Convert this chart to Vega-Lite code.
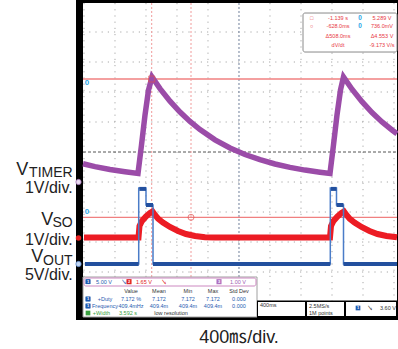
{
  "$schema": "https://vega.github.io/schema/vega-lite/v6.json",
  "width": 322,
  "height": 320,
  "autosize": {"type": "none"},
  "padding": {"left": 76, "top": 0, "right": 0, "bottom": 29},
  "background": "white",
  "config": {"view": {"fill": "black", "stroke": null}, "text": {"font": "Liberation Sans, Noto Sans CJK JP"}},
  "datasets": {
    "screen": [{"t": -5.032, "t2": 5.097, "v": 4.967, "v2": -5.5}],
    "gridX": [{"t": -5}, {"t": -4}, {"t": -3}, {"t": -2}, {"t": -1}, {"t": 1}, {"t": 2}, {"t": 3}, {"t": 4}, {"t": 5}],
    "gridY": [{"v": -5}, {"v": -4}, {"v": -3}, {"v": -2}, {"v": -1}, {"v": 1}, {"v": 2}, {"v": 3}, {"v": 4}],
    "centerT": [{"t": 0}],
    "centerV": [{"v": 0}],
    "cursorH": [{"v": 2.433}, {"v": -2.177}],
    "cursorV": [{"t": -2.816}, {"t": -1.548}],
    "purple": [
      {"t": -5.032, "v": -0.393}, {"t": -4.645, "v": -0.487}, {"t": -4.161, "v": -0.583}, {"t": -3.677, "v": -0.657},
      {"t": -3.258, "v": -0.713}, {"t": -3.145, "v": 0.233}, {"t": -3.032, "v": 1.233}, {"t": -2.919, "v": 2.067},
      {"t": -2.806, "v": 2.5}, {"t": -2.548, "v": 2.113}, {"t": -2.226, "v": 1.693}, {"t": -1.903, "v": 1.33},
      {"t": -1.581, "v": 1.017}, {"t": -1.258, "v": 0.747}, {"t": -0.774, "v": 0.407}, {"t": -0.29, "v": 0.133},
      {"t": 0.194, "v": -0.083}, {"t": 0.677, "v": -0.257}, {"t": 1.161, "v": -0.4}, {"t": 1.645, "v": -0.513},
      {"t": 2.129, "v": -0.603}, {"t": 2.613, "v": -0.673}, {"t": 2.935, "v": -0.713}, {"t": 3.048, "v": 0.233},
      {"t": 3.161, "v": 1.233}, {"t": 3.274, "v": 2.067}, {"t": 3.371, "v": 2.5}, {"t": 3.645, "v": 2.093},
      {"t": 3.968, "v": 1.677}, {"t": 4.29, "v": 1.313}, {"t": 4.613, "v": 1.0}, {"t": 4.935, "v": 0.733},
      {"t": 5.097, "v": 0.61}
    ],
    "red": [
      {"t": -5.0, "v": -2.85}, {"t": -3.242, "v": -2.85}, {"t": -3.21, "v": -2.467}, {"t": -3.129, "v": -2.3},
      {"t": -3.0, "v": -2.15}, {"t": -2.871, "v": -2.033}, {"t": -2.79, "v": -1.983}, {"t": -2.71, "v": -2.1},
      {"t": -2.613, "v": -2.217}, {"t": -2.452, "v": -2.35}, {"t": -2.226, "v": -2.5}, {"t": -1.968, "v": -2.633},
      {"t": -1.71, "v": -2.733}, {"t": -1.419, "v": -2.8}, {"t": -1.097, "v": -2.843}, {"t": -0.774, "v": -2.85},
      {"t": 2.935, "v": -2.85}, {"t": 2.968, "v": -2.467}, {"t": 3.048, "v": -2.3}, {"t": 3.177, "v": -2.15},
      {"t": 3.306, "v": -2.033}, {"t": 3.387, "v": -1.983}, {"t": 3.468, "v": -2.1}, {"t": 3.565, "v": -2.217},
      {"t": 3.726, "v": -2.35}, {"t": 3.952, "v": -2.5}, {"t": 4.21, "v": -2.633}, {"t": 4.468, "v": -2.733},
      {"t": 4.758, "v": -2.8}, {"t": 5.097, "v": -2.843}
    ],
    "blue": [
      {"i": 1, "t": -4.97, "v": -3.733}, {"i": 2, "t": -3.235, "v": -3.733}, {"i": 3, "t": -3.235, "v": -1.2},
      {"i": 4, "t": -3.0, "v": -1.2}, {"i": 5, "t": -3.0, "v": -1.767}, {"i": 6, "t": -2.774, "v": -1.767},
      {"i": 7, "t": -2.774, "v": -3.733}, {"i": 8, "t": 2.945, "v": -3.733}, {"i": 9, "t": 2.945, "v": -1.2},
      {"i": 10, "t": 3.145, "v": -1.2}, {"i": 11, "t": 3.145, "v": -1.767}, {"i": 12, "t": 3.371, "v": -1.767},
      {"i": 13, "t": 3.371, "v": -3.733}, {"i": 14, "t": 5.097, "v": -3.733}
    ],
    "blueSeg": [
      {"t": -4.97, "t2": -3.235, "v": -3.733}, {"t": -2.774, "t2": 2.945, "v": -3.733}, {"t": 3.371, "t2": 5.097, "v": -3.733},
      {"t": -3.215, "t2": -3.0, "v": -1.23}, {"t": -3.0, "t2": -2.774, "v": -1.767},
      {"t": 2.965, "t2": 3.145, "v": -1.23}, {"t": 3.145, "t2": 3.371, "v": -1.767}
    ],
    "measBox": [{"t": 2.065, "t2": 5.097, "v": 4.633, "v2": 3.333}],
    "measText": [
      {"t": 2.345, "v": 4.467, "label": "□"}, {"t": 3.194, "v": 4.467, "label": "-1.139 s"}, {"t": 4.613, "v": 4.467, "label": "5.289 V"},
      {"t": 2.345, "v": 4.19, "label": "○"}, {"t": 3.194, "v": 4.19, "label": "-628.0ms"}, {"t": 4.613, "v": 4.19, "label": "736.0mV"},
      {"t": 3.194, "v": 3.867, "label": "Δ508.0ms"}, {"t": 4.613, "v": 3.867, "label": "Δ4.553 V"},
      {"t": 3.194, "v": 3.577, "label": "dV/dt"}, {"t": 4.613, "v": 3.577, "label": "-9.173 V/s"}
    ],
    "measZero": [{"t": 3.903, "v": 4.467, "label": "0"}, {"t": 3.903, "v": 4.19, "label": "0"}],
    "edgeZero": [{"t": -4.903, "v": 2.31, "label": "0"}, {"t": -4.903, "v": -2.0, "label": "0"}],
    "panel": [{"t": -5.032, "t2": 0.581, "v": -4.167, "v2": -5.5}],
    "strip": [{"t": -5.0, "t2": 0.548, "v": -4.2, "v2": -4.467}],
    "badgeBlue": [{"t": -4.871, "v": -4.323}, {"t": -4.871, "v": -4.9}, {"t": -4.871, "v": -5.133}, {"t": 3.839, "v": -5.2}],
    "badgeRed": [{"t": -3.548, "v": -4.323}],
    "badgePurple": [{"t": -0.645, "v": -4.323}],
    "badgeGreen": [{"t": -4.871, "v": -5.367}],
    "badgeDigit": [
      {"t": -4.871, "v": -4.323, "label": "1"}, {"t": -4.871, "v": -4.9, "label": "1"}, {"t": -4.871, "v": -5.133, "label": "1"},
      {"t": 3.839, "v": -5.2, "label": "1"}, {"t": -3.548, "v": -4.323, "label": "2"}, {"t": -0.645, "v": -4.323, "label": "3"}
    ],
    "blueText": [
      {"t": -4.355, "v": -4.323, "label": "5.00 V"}, {"t": -3.71, "v": -4.323, "label": "↘"},
      {"t": -4.323, "v": -4.9, "label": "+Duty"}, {"t": -3.484, "v": -4.9, "label": "7.172 %"},
      {"t": -2.581, "v": -4.9, "label": "7.172"}, {"t": -1.645, "v": -4.9, "label": "7.172"},
      {"t": -0.839, "v": -4.9, "label": "7.172"}, {"t": 0, "v": -4.9, "label": "0.000"},
      {"t": -4.323, "v": -5.133, "label": "Frequency"}, {"t": -3.484, "v": -5.133, "label": "409.4mHz"},
      {"t": -2.581, "v": -5.133, "label": "409.4m"}, {"t": -1.645, "v": -5.133, "label": "409.4m"},
      {"t": -0.839, "v": -5.133, "label": "409.4m"}, {"t": 0, "v": -5.133, "label": "0.000"}
    ],
    "redText": [{"t": -3.065, "v": -4.323, "label": "1.65 V"}, {"t": -2.419, "v": -4.323, "label": "↘"}],
    "purpleText": [{"t": -0.032, "v": -4.323, "label": "1.00 V"}],
    "greenText": [{"t": -4.435, "v": -5.367, "label": "+Width"}, {"t": -3.58, "v": -5.367, "label": "3.592 s"}],
    "darkText": [
      {"t": -3.484, "v": -4.623, "label": "Value"}, {"t": -2.581, "v": -4.623, "label": "Mean"},
      {"t": -1.645, "v": -4.623, "label": "Min"}, {"t": -0.839, "v": -4.623, "label": "Max"},
      {"t": 0, "v": -4.623, "label": "Std Dev"}, {"t": -2.19, "v": -5.367, "label": "low resolution"},
      {"t": 4.226, "v": -5.2, "label": "↘"}, {"t": 4.806, "v": -5.2, "label": "3.60 V"}
    ],
    "boxBack": [{"t": 0.581, "t2": 5.097, "v": -4.95, "v2": -5.5}],
    "boxes": [
      {"t": 0.613, "t2": 2.129, "v": -5.0, "v2": -5.47},
      {"t": 2.194, "t2": 3.387, "v": -5.0, "v2": -5.47},
      {"t": 3.452, "t2": 5.065, "v": -5.0, "v2": -5.47}
    ],
    "boxText": [
      {"t": 0.677, "v": -5.1, "label": "400ms"}, {"t": 2.258, "v": -5.12, "label": "2.5MS/s"},
      {"t": 2.258, "v": -5.35, "label": "1M points"}
    ],
    "chMarkLav": [{"t": -5.177, "v": -1.0}],
    "chMarkRed": [{"t": -5.177, "v": -2.867}],
    "chMarkBlue": [{"t": -5.177, "v": -3.733}],
    "cursorSq": [{"t": -2.816, "v": 2.433}],
    "cursorCi": [{"t": -1.548, "v": -2.177}],
    "bigV": [{"t": -6.797, "v": -0.767, "label": "V"}, {"t": -5.99, "v": -2.42, "label": "V"}, {"t": -6.313, "v": -3.65, "label": "V"}],
    "subs": [{"t": -5.365, "v": -0.817, "label": "TIMER"}, {"t": -5.365, "v": -2.5, "label": "SO"}, {"t": -5.365, "v": -3.76, "label": "OUT"}],
    "perDiv": [{"t": -5.365, "v": -1.377, "label": "1V/div."}, {"t": -5.365, "v": -3.1, "label": "1V/div."}, {"t": -5.365, "v": -4.27, "label": "5V/div."}],
    "title": [{"t": 0, "v": -6.377, "label": "400㎳/div."}]
  },
  "layer": [
    {"data": {"name": "screen"}, "mark": {"type": "rect", "fill": "white"},
     "encoding": {"x": {"field": "t", "type": "quantitative", "scale": {"domain": [-5.258, 5.129], "nice": false, "zero": false}, "axis": null},
                  "y": {"field": "v", "type": "quantitative", "scale": {"domain": [-5.6, 5.067], "nice": false, "zero": false}, "axis": null},
                  "x2": {"field": "t2"}, "y2": {"field": "v2"}}},
    {"data": {"name": "gridX"}, "mark": {"type": "rule", "stroke": "#a8a8a8", "strokeWidth": 1, "strokeDash": [1.2, 5]},
     "encoding": {"x": {"field": "t", "type": "quantitative", "axis": null}, "y": {"datum": 4.967, "type": "quantitative", "axis": null}, "y2": {"datum": -5.5}}},
    {"data": {"name": "gridY"}, "mark": {"type": "rule", "stroke": "#a8a8a8", "strokeWidth": 1, "strokeDash": [1.2, 5]},
     "encoding": {"y": {"field": "v", "type": "quantitative", "axis": null}, "x": {"datum": -5.032, "type": "quantitative", "axis": null}, "x2": {"datum": 5.097}}},
    {"data": {"name": "centerV"}, "mark": {"type": "rule", "stroke": "#555555", "strokeWidth": 1, "strokeDash": [3, 2]},
     "encoding": {"y": {"field": "v", "type": "quantitative", "axis": null}, "x": {"datum": -5.032, "type": "quantitative", "axis": null}, "x2": {"datum": 5.097}}},
    {"data": {"name": "centerT"}, "mark": {"type": "rule", "stroke": "#6f7f9a", "strokeWidth": 1, "strokeDash": [2, 2]},
     "encoding": {"x": {"field": "t", "type": "quantitative", "axis": null}, "y": {"datum": 4.967, "type": "quantitative", "axis": null}, "y2": {"datum": -5.5}}},
    {"data": {"name": "cursorH"}, "mark": {"type": "rule", "stroke": "#f08080", "strokeWidth": 1.3},
     "encoding": {"y": {"field": "v", "type": "quantitative", "axis": null}, "x": {"datum": -5.032, "type": "quantitative", "axis": null}, "x2": {"datum": 5.097}}},
    {"data": {"name": "cursorV"}, "mark": {"type": "rule", "stroke": "#f09a9a", "strokeWidth": 1, "strokeDash": [2, 2]},
     "encoding": {"x": {"field": "t", "type": "quantitative", "axis": null}, "y": {"datum": 4.967, "type": "quantitative", "axis": null}, "y2": {"datum": -5.5}}},
    {"data": {"name": "purple"}, "mark": {"type": "line", "stroke": "#9b4ca8", "strokeWidth": 5.5},
     "encoding": {"x": {"field": "t", "type": "quantitative", "axis": null}, "y": {"field": "v", "type": "quantitative", "axis": null}}},
    {"data": {"name": "red"}, "mark": {"type": "line", "stroke": "#ec1c24", "strokeWidth": 6},
     "encoding": {"x": {"field": "t", "type": "quantitative", "axis": null}, "y": {"field": "v", "type": "quantitative", "axis": null}}},
    {"data": {"name": "blue"}, "mark": {"type": "line", "stroke": "#4a7cc8", "strokeWidth": 1.5},
     "encoding": {"x": {"field": "t", "type": "quantitative", "axis": null}, "y": {"field": "v", "type": "quantitative", "axis": null}, "order": {"field": "i", "type": "quantitative"}}},
    {"data": {"name": "blueSeg"}, "mark": {"type": "rule", "stroke": "#23509e", "strokeWidth": 4},
     "encoding": {"x": {"field": "t", "type": "quantitative", "axis": null}, "x2": {"field": "t2"}, "y": {"field": "v", "type": "quantitative", "axis": null}}},
    {"data": {"name": "cursorSq"}, "mark": {"type": "point", "shape": "square", "filled": false, "stroke": "#e05050", "strokeWidth": 1, "size": 36},
     "encoding": {"x": {"field": "t", "type": "quantitative", "axis": null}, "y": {"field": "v", "type": "quantitative", "axis": null}}},
    {"data": {"name": "cursorCi"}, "mark": {"type": "point", "shape": "circle", "filled": false, "stroke": "#e05050", "strokeWidth": 1, "size": 36},
     "encoding": {"x": {"field": "t", "type": "quantitative", "axis": null}, "y": {"field": "v", "type": "quantitative", "axis": null}}},
    {"data": {"name": "edgeZero"}, "mark": {"type": "text", "fill": "#2ea6e6", "fontSize": 8, "fontWeight": "bold", "baseline": "middle", "align": "center"},
     "encoding": {"x": {"field": "t", "type": "quantitative", "axis": null}, "y": {"field": "v", "type": "quantitative", "axis": null}, "text": {"field": "label"}}},
    {"data": {"name": "chMarkLav"}, "mark": {"type": "point", "shape": "circle", "filled": true, "fill": "#eadcf2", "stroke": "#a070b0", "strokeWidth": 0.8, "size": 28, "opacity": 1},
     "encoding": {"x": {"field": "t", "type": "quantitative", "axis": null}, "y": {"field": "v", "type": "quantitative", "axis": null}}},
    {"data": {"name": "chMarkRed"}, "mark": {"type": "point", "shape": "circle", "filled": true, "fill": "#e82020", "size": 30, "opacity": 1},
     "encoding": {"x": {"field": "t", "type": "quantitative", "axis": null}, "y": {"field": "v", "type": "quantitative", "axis": null}}},
    {"data": {"name": "chMarkBlue"}, "mark": {"type": "point", "shape": "circle", "filled": true, "fill": "#c2d6f2", "stroke": "#5a86c8", "strokeWidth": 0.8, "size": 28, "opacity": 1},
     "encoding": {"x": {"field": "t", "type": "quantitative", "axis": null}, "y": {"field": "v", "type": "quantitative", "axis": null}}},
    {"data": {"name": "measBox"}, "mark": {"type": "rect", "fill": "white", "stroke": "#8a8a8a", "strokeWidth": 1, "cornerRadius": 2},
     "encoding": {"x": {"field": "t", "type": "quantitative", "axis": null}, "y": {"field": "v", "type": "quantitative", "axis": null}, "x2": {"field": "t2"}, "y2": {"field": "v2"}}},
    {"data": {"name": "measText"}, "mark": {"type": "text", "fill": "#e8383f", "fontSize": 5.5, "baseline": "middle", "align": "center"},
     "encoding": {"x": {"field": "t", "type": "quantitative", "axis": null}, "y": {"field": "v", "type": "quantitative", "axis": null}, "text": {"field": "label"}}},
    {"data": {"name": "measZero"}, "mark": {"type": "text", "fill": "#2ea6e6", "fontSize": 6.5, "fontWeight": "bold", "baseline": "middle", "align": "center"},
     "encoding": {"x": {"field": "t", "type": "quantitative", "axis": null}, "y": {"field": "v", "type": "quantitative", "axis": null}, "text": {"field": "label"}}},
    {"data": {"name": "panel"}, "mark": {"type": "rect", "fill": "white", "stroke": "#a0a0a0", "strokeWidth": 1},
     "encoding": {"x": {"field": "t", "type": "quantitative", "axis": null}, "y": {"field": "v", "type": "quantitative", "axis": null}, "x2": {"field": "t2"}, "y2": {"field": "v2"}}},
    {"data": {"name": "strip"}, "mark": {"type": "rect", "fill": "white", "stroke": "#cc88c0", "strokeWidth": 1, "cornerRadius": 2},
     "encoding": {"x": {"field": "t", "type": "quantitative", "axis": null}, "y": {"field": "v", "type": "quantitative", "axis": null}, "x2": {"field": "t2"}, "y2": {"field": "v2"}}},
    {"data": {"name": "badgeBlue"}, "mark": {"type": "point", "shape": "square", "filled": true, "fill": "#1f5bb0", "size": 22, "opacity": 1},
     "encoding": {"x": {"field": "t", "type": "quantitative", "axis": null}, "y": {"field": "v", "type": "quantitative", "axis": null}}},
    {"data": {"name": "badgeRed"}, "mark": {"type": "point", "shape": "square", "filled": true, "fill": "#e02020", "size": 26, "opacity": 1},
     "encoding": {"x": {"field": "t", "type": "quantitative", "axis": null}, "y": {"field": "v", "type": "quantitative", "axis": null}}},
    {"data": {"name": "badgePurple"}, "mark": {"type": "point", "shape": "square", "filled": true, "fill": "#b070c0", "size": 26, "opacity": 1},
     "encoding": {"x": {"field": "t", "type": "quantitative", "axis": null}, "y": {"field": "v", "type": "quantitative", "axis": null}}},
    {"data": {"name": "badgeGreen"}, "mark": {"type": "point", "shape": "square", "filled": true, "fill": "#3aa040", "size": 22, "opacity": 1},
     "encoding": {"x": {"field": "t", "type": "quantitative", "axis": null}, "y": {"field": "v", "type": "quantitative", "axis": null}}},
    {"data": {"name": "blueText"}, "mark": {"type": "text", "fill": "#1f5bb0", "fontSize": 5.5, "baseline": "middle", "align": "center"},
     "encoding": {"x": {"field": "t", "type": "quantitative", "axis": null}, "y": {"field": "v", "type": "quantitative", "axis": null}, "text": {"field": "label"}}},
    {"data": {"name": "redText"}, "mark": {"type": "text", "fill": "#e02020", "fontSize": 5.5, "baseline": "middle", "align": "center"},
     "encoding": {"x": {"field": "t", "type": "quantitative", "axis": null}, "y": {"field": "v", "type": "quantitative", "axis": null}, "text": {"field": "label"}}},
    {"data": {"name": "purpleText"}, "mark": {"type": "text", "fill": "#a060b0", "fontSize": 5.5, "baseline": "middle", "align": "center"},
     "encoding": {"x": {"field": "t", "type": "quantitative", "axis": null}, "y": {"field": "v", "type": "quantitative", "axis": null}, "text": {"field": "label"}}},
    {"data": {"name": "greenText"}, "mark": {"type": "text", "fill": "#3aa040", "fontSize": 5.5, "baseline": "middle", "align": "center"},
     "encoding": {"x": {"field": "t", "type": "quantitative", "axis": null}, "y": {"field": "v", "type": "quantitative", "axis": null}, "text": {"field": "label"}}},
    {"data": {"name": "boxBack"}, "mark": {"type": "rect", "fill": "black"},
     "encoding": {"x": {"field": "t", "type": "quantitative", "axis": null}, "y": {"field": "v", "type": "quantitative", "axis": null}, "x2": {"field": "t2"}, "y2": {"field": "v2"}}},
    {"data": {"name": "boxes"}, "mark": {"type": "rect", "fill": "white"},
     "encoding": {"x": {"field": "t", "type": "quantitative", "axis": null}, "y": {"field": "v", "type": "quantitative", "axis": null}, "x2": {"field": "t2"}, "y2": {"field": "v2"}}},
    {"data": {"name": "badgeBlue"}, "mark": {"type": "point", "shape": "square", "filled": true, "fill": "#1f5bb0", "size": 22, "opacity": 1},
     "encoding": {"x": {"field": "t", "type": "quantitative", "axis": null}, "y": {"field": "v", "type": "quantitative", "axis": null}}},
    {"data": {"name": "badgeDigit"}, "mark": {"type": "text", "fill": "white", "fontSize": 4, "fontWeight": "bold", "baseline": "middle", "align": "center"},
     "encoding": {"x": {"field": "t", "type": "quantitative", "axis": null}, "y": {"field": "v", "type": "quantitative", "axis": null}, "text": {"field": "label"}}},
    {"data": {"name": "darkText"}, "mark": {"type": "text", "fill": "#333333", "fontSize": 5.5, "baseline": "middle", "align": "center"},
     "encoding": {"x": {"field": "t", "type": "quantitative", "axis": null}, "y": {"field": "v", "type": "quantitative", "axis": null}, "text": {"field": "label"}}},
    {"data": {"name": "boxText"}, "mark": {"type": "text", "fill": "#333333", "fontSize": 5.5, "baseline": "middle", "align": "left"},
     "encoding": {"x": {"field": "t", "type": "quantitative", "axis": null}, "y": {"field": "v", "type": "quantitative", "axis": null}, "text": {"field": "label"}}},
    {"data": {"name": "bigV"}, "mark": {"type": "text", "fill": "#222222", "fontSize": 18, "baseline": "alphabetic", "align": "right"},
     "encoding": {"x": {"field": "t", "type": "quantitative", "axis": null}, "y": {"field": "v", "type": "quantitative", "axis": null}, "text": {"field": "label"}}},
    {"data": {"name": "subs"}, "mark": {"type": "text", "fill": "#222222", "fontSize": 14, "baseline": "alphabetic", "align": "right"},
     "encoding": {"x": {"field": "t", "type": "quantitative", "axis": null}, "y": {"field": "v", "type": "quantitative", "axis": null}, "text": {"field": "label"}}},
    {"data": {"name": "perDiv"}, "mark": {"type": "text", "fill": "#222222", "fontSize": 16, "baseline": "alphabetic", "align": "right"},
     "encoding": {"x": {"field": "t", "type": "quantitative", "axis": null}, "y": {"field": "v", "type": "quantitative", "axis": null}, "text": {"field": "label"}}},
    {"data": {"name": "title"}, "mark": {"type": "text", "fill": "#222222", "fontSize": 18, "baseline": "alphabetic", "align": "center"},
     "encoding": {"x": {"field": "t", "type": "quantitative", "axis": null}, "y": {"field": "v", "type": "quantitative", "axis": null}, "text": {"field": "label"}}}
  ]
}
